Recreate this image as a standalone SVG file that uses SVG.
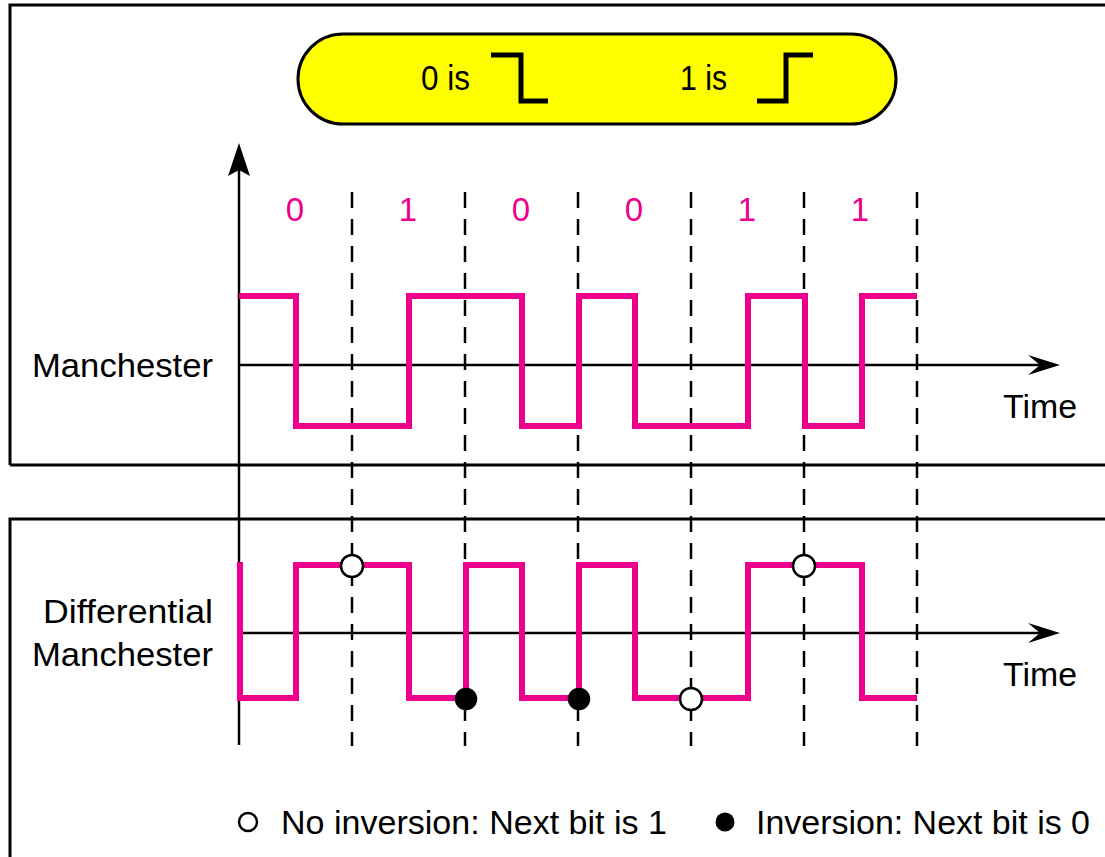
<svg xmlns="http://www.w3.org/2000/svg" width="1105" height="857" viewBox="0 0 1105 857">
  <style>
    .frame { fill: none; stroke: #000; stroke-width: 3; }
    .axis { fill: none; stroke: #000; stroke-width: 2.5; }
    .head { fill: #000; stroke: none; }
    .dash { fill: none; stroke: #000; stroke-width: 2.5; stroke-dasharray: 16 11; }
    .wave { fill: none; stroke: #EC008C; stroke-width: 6; stroke-linejoin: miter; stroke-linecap: butt; }
    .step { fill: none; stroke: #000; stroke-width: 5; stroke-linejoin: miter; }
    .open { fill: #fff; stroke: #000; stroke-width: 2.5; }
    .fill { fill: #000; stroke: #000; stroke-width: 2.5; }
    .t { font-family: "Liberation Sans", Arial, sans-serif; fill: #000; }
    .bit { font-family: "Liberation Sans", Arial, sans-serif; fill: #EC008C; font-size: 33px; text-anchor: middle; }
  </style>
  <rect width="1105" height="857" fill="#fff"/>

  <g id="panels">
    <path class="frame" d="M10,465 V5 H1108 M10,465 H1108"/>
    <path class="frame" d="M1108,519 H10 V860"/>
  </g>

  <g id="legend-pill">
    <rect x="298" y="34" width="598" height="90" rx="45" ry="45" fill="#FFFF00" stroke="#000" stroke-width="3"/>
    <text class="t" x="421" y="90" font-size="35" textLength="49" lengthAdjust="spacingAndGlyphs">0 is</text>
    <path class="step" d="M491,55 H521 V101 H548"/>
    <text class="t" x="680" y="90" font-size="35" textLength="47" lengthAdjust="spacingAndGlyphs">1 is</text>
    <path class="step" d="M757,101 H786 V55 H813"/>
  </g>

  <g id="bits">
    <text class="bit" x="295" y="221">0</text>
    <text class="bit" x="408" y="221">1</text>
    <text class="bit" x="521" y="221">0</text>
    <text class="bit" x="634" y="221">0</text>
    <text class="bit" x="747" y="221">1</text>
    <text class="bit" x="860" y="221">1</text>
  </g>

  <g id="connectors">
    <line class="dash" x1="352" y1="192" x2="352" y2="746"/>
    <line class="dash" x1="465" y1="192" x2="465" y2="746"/>
    <line class="dash" x1="578" y1="192" x2="578" y2="746"/>
    <line class="dash" x1="691" y1="192" x2="691" y2="746"/>
    <line class="dash" x1="804" y1="192" x2="804" y2="746"/>
    <line class="dash" x1="917" y1="192" x2="917" y2="746"/>
    <line class="axis" x1="239" y1="745" x2="239" y2="165"/>
    <path class="head" d="M239,143 L250,176 L239,170 L228,176 Z"/>
    <line class="axis" x1="239" y1="365" x2="1045" y2="365"/>
    <path class="head" d="M1060,365 L1028,375 L1040,365 L1028,355 Z"/>
    <line class="axis" x1="239" y1="633" x2="1045" y2="633"/>
    <path class="head" d="M1060,633 L1028,643 L1040,633 L1028,623 Z"/>
  </g>

  <g id="manchester">
    <text class="t" x="32" y="377" font-size="33" textLength="181" lengthAdjust="spacingAndGlyphs">Manchester</text>
    <path class="wave" d="M239,296 H296 V426 H409 V296 H522 V426 H579 V296 H635 V426 H748 V296 H805 V426 H862 V296 H917"/>
    <text class="t" x="1003" y="418" font-size="34" textLength="74" lengthAdjust="spacingAndGlyphs">Time</text>
  </g>

  <g id="differential-manchester">
    <text class="t" x="43" y="623" font-size="33" textLength="170" lengthAdjust="spacingAndGlyphs">Differential</text>
    <text class="t" x="32" y="666" font-size="33" textLength="181" lengthAdjust="spacingAndGlyphs">Manchester</text>
    <path class="wave" d="M240,562 V698 H296 V565 H409 V698 H466 V565 H522 V698 H579 V565 H635 V698 H748 V565 H862 V698 H917"/>
    <text class="t" x="1003" y="686" font-size="34" textLength="74" lengthAdjust="spacingAndGlyphs">Time</text>
    <circle class="open" cx="352" cy="566" r="11"/>
    <circle class="fill" cx="466" cy="699" r="10"/>
    <circle class="fill" cx="579" cy="699" r="10"/>
    <circle class="open" cx="691" cy="699" r="11"/>
    <circle class="open" cx="804" cy="566" r="11"/>
  </g>

  <g id="legend">
    <circle cx="248" cy="822" r="9" fill="none" stroke="#000" stroke-width="2.5"/>
    <text class="t" x="281" y="834" font-size="34" textLength="386" lengthAdjust="spacingAndGlyphs">No inversion: Next bit is 1</text>
    <circle cx="725" cy="822" r="9.5" fill="#000"/>
    <text class="t" x="756" y="834" font-size="34" textLength="334" lengthAdjust="spacingAndGlyphs">Inversion: Next bit is 0</text>
  </g>
</svg>
